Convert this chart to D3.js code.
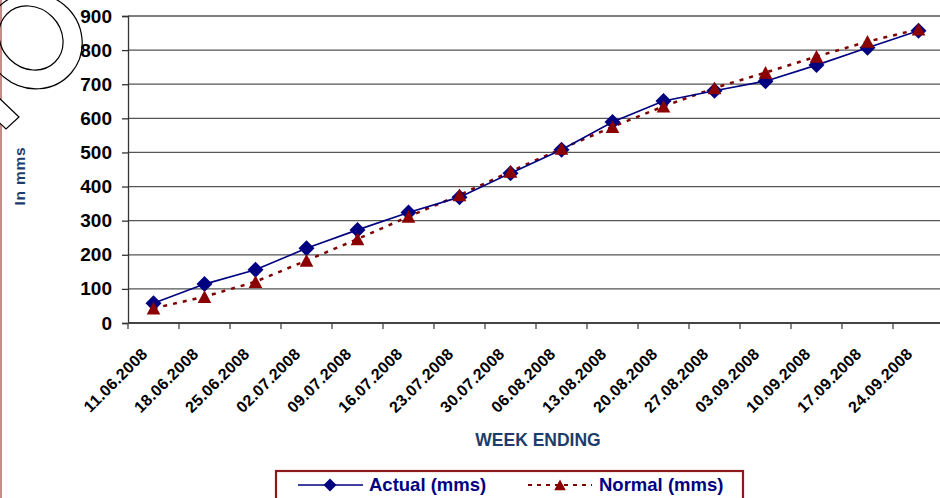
<!DOCTYPE html>
<html>
<head>
<meta charset="utf-8">
<script src="https://cdn.jsdelivr.net/npm/d3@7/dist/d3.min.js"></script>
<style>
  html, body { margin: 0; padding: 0; background: #fff; }
  svg { display: block; font-family: "Liberation Sans", Arial, sans-serif; }
</style>
</head>
<body>
<svg id="chart" width="940" height="498"></svg>
<script>
const categories = ["11.06.2008","18.06.2008","25.06.2008","02.07.2008","09.07.2008","16.07.2008","23.07.2008","30.07.2008","06.08.2008","13.08.2008","20.08.2008","27.08.2008","03.09.2008","10.09.2008","17.09.2008","24.09.2008"];
const actual = [58,114,156,219,273,324,369,439,508,589,651,681,709,756,807,857];
const normal = [43,77,121,183,246,312,375,444,511,575,635,689,734,781,825,861];
const yTicks = [0,100,200,300,400,500,600,700,800,900];
const seriesNames = ["Actual (mms)", "Normal (mms)"];
const yTitle = "In mms";
const xTitle = "WEEK ENDING";

const svg = d3.select("#chart");
const W = 940, H = 498;
const pLeft = 128, pRight = 944, pTop = 16, pBottom = 323;

// decorative clip-art at top-left
svg.append("line").attr("x1", 1).attr("x2", 1).attr("y1", 0).attr("y2", H)
  .attr("stroke", "#c98a8a").attr("stroke-width", 2);
svg.append("ellipse").attr("cx", 34).attr("cy", 41).attr("rx", 49).attr("ry", 47)
  .attr("transform", "rotate(40 34 41)")
  .attr("fill", "none").attr("stroke", "#000").attr("stroke-width", 1.2);
svg.append("ellipse").attr("cx", 31).attr("cy", 38).attr("rx", 34).attr("ry", 30)
  .attr("transform", "rotate(45 31 38)")
  .attr("fill", "none").attr("stroke", "#000").attr("stroke-width", 1.2);
svg.append("polygon").attr("points", "-3,96 19,117 6,129 -16,108")
  .attr("fill", "#fff").attr("stroke", "#000").attr("stroke-width", 1.2);

const x = d3.scaleBand().domain(categories).range([pLeft, pRight]).padding(0);
const cx = d => x(d) + x.bandwidth() / 2;
const y = d3.scaleLinear().domain([0, 900]).range([pBottom, pTop]);

// gridlines
svg.append("g").selectAll("line").data(yTicks.filter(t => t > 0)).join("line")
  .attr("x1", pLeft).attr("x2", W)
  .attr("y1", d => y(d)).attr("y2", d => y(d))
  .attr("stroke", "#555").attr("stroke-width", 1.3);

// y axis
const yAxis = svg.append("g").attr("transform", `translate(${pLeft},0)`)
  .call(d3.axisLeft(y).tickValues(yTicks).tickSize(6).tickPadding(10).tickFormat(d3.format("d")));
yAxis.select(".domain").attr("stroke", "#333").attr("stroke-width", 1.3);
yAxis.selectAll(".tick line").attr("stroke", "#333").attr("stroke-width", 1.3);
yAxis.selectAll(".tick text").attr("font-size", "19px").attr("font-weight", "bold")
  .attr("fill", "#000").attr("font-family", "Liberation Sans, Arial, sans-serif");

// x axis
const xg = svg.append("g");
xg.append("line").attr("x1", pLeft).attr("x2", W).attr("y1", y(0)).attr("y2", y(0))
  .attr("stroke", "#444").attr("stroke-width", 2);
const bounds = categories.map(c => x(c)).concat([x.range()[1]]);
xg.selectAll("line.tk").data(bounds).join("line").attr("class", "tk")
  .attr("x1", d => d).attr("x2", d => d).attr("y1", y(0)).attr("y2", y(0) + 6)
  .attr("stroke", "#444").attr("stroke-width", 1.3);
xg.selectAll("text").data(categories).join("text")
  .attr("transform", d => `translate(${cx(d) - 5},${y(0) + 32}) rotate(-45)`)
  .attr("text-anchor", "end")
  .attr("font-size", "16px").attr("font-weight", "bold").attr("fill", "#000")
  .attr("letter-spacing", "0.3px")
  .text(d => d);

// axis titles
svg.append("text").attr("transform", "translate(25,176) rotate(-90)")
  .attr("text-anchor", "middle").attr("font-size", "15.5px").attr("font-weight", "bold")
  .attr("letter-spacing", "0.8px")
  .attr("fill", "#1c3d6b").text(yTitle);
svg.append("text").attr("x", 538).attr("y", 446)
  .attr("text-anchor", "middle").attr("font-size", "17.5px").attr("font-weight", "bold")
  .attr("fill", "#1c3d6b").text(xTitle);

// series
const line = d3.line().x((d, i) => cx(categories[i])).y(d => y(d));
svg.append("path").datum(normal).attr("d", line)
  .attr("fill", "none").attr("stroke", "#800000").attr("stroke-width", 2.5)
  .attr("stroke-dasharray", "4,6");
svg.append("path").datum(actual).attr("d", line)
  .attr("fill", "none").attr("stroke", "#000080").attr("stroke-width", 1.6);

const diamond = s => `M0,${-s} L${s},0 L0,${s} L${-s},0 Z`;
const triangle = s => `M0,${-s} L${s * 1.05},${s * 0.95} L${-s * 1.05},${s * 0.95} Z`;

svg.append("g").selectAll("path").data(actual).join("path")
  .attr("transform", (d, i) => `translate(${cx(categories[i])},${y(d)})`)
  .attr("d", diamond(8)).attr("fill", "#000080");
svg.append("g").selectAll("path").data(normal).join("path")
  .attr("transform", (d, i) => `translate(${cx(categories[i])},${y(d)})`)
  .attr("d", triangle(6.5)).attr("fill", "#8b0000");

// legend
const lg = svg.append("g");
lg.append("rect").attr("x", 276).attr("y", 471).attr("width", 467).attr("height", 40)
  .attr("fill", "#fff").attr("stroke", "#8b1a1a").attr("stroke-width", 2.2);
lg.append("line").attr("x1", 298).attr("x2", 363).attr("y1", 485).attr("y2", 485)
  .attr("stroke", "#000080").attr("stroke-width", 1.6);
lg.append("path").attr("transform", "translate(330,485)").attr("d", diamond(6.5)).attr("fill", "#000080");
lg.append("text").attr("x", 369).attr("y", 491).attr("font-size", "18.5px").attr("font-weight", "bold")
  .attr("fill", "#000080").text(seriesNames[0]);
lg.append("line").attr("x1", 528).attr("x2", 592).attr("y1", 485).attr("y2", 485)
  .attr("stroke", "#800000").attr("stroke-width", 2).attr("stroke-dasharray", "4,5");
lg.append("path").attr("transform", "translate(560,485)").attr("d", triangle(5.5)).attr("fill", "#8b0000");
lg.append("text").attr("x", 599).attr("y", 491).attr("font-size", "18.5px").attr("font-weight", "bold")
  .attr("fill", "#000080").text(seriesNames[1]);
</script>
</body>
</html>
